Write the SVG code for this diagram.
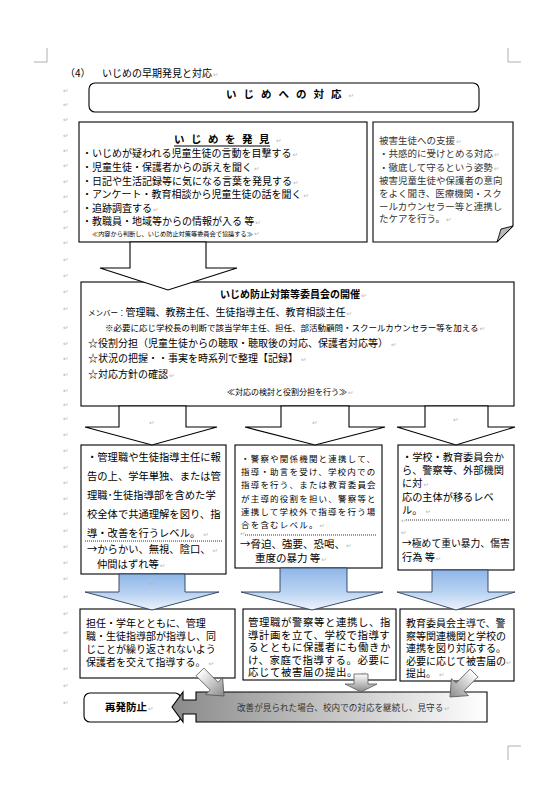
<svg xmlns="http://www.w3.org/2000/svg" width="555" height="789" viewBox="0 0 555 789">
<defs>
<style>
.t{font-family:"Noto Sans CJK JP","Noto Sans CJK SC",sans-serif;font-size:10px;fill:#000}
.b{font-weight:700}
.s{fill:#333}
.r{font-family:"DejaVu Sans",sans-serif;font-size:6.5px;fill:#b4b4b4;font-weight:400;letter-spacing:0}
.box{fill:#fff;stroke:#000;stroke-width:1.1}
.arr{fill:#fff;stroke:#000;stroke-width:1.1}
.blu{fill:url(#gb);stroke:#2a3a55;stroke-width:0.9}
.gry{stroke:#555;stroke-width:0.8}
.dot{stroke:#000;stroke-width:0.8;stroke-dasharray:1 1}
.crop{fill:none;stroke:#999;stroke-width:0.8}
</style>
<linearGradient id="gb" x1="0" y1="0" x2="0" y2="1">
<stop offset="0" stop-color="#8fb6e8"/><stop offset="0.55" stop-color="#b8d2f2"/><stop offset="1" stop-color="#eef4fc"/>
</linearGradient>
<linearGradient id="gd" x1="0" y1="0" x2="1" y2="0">
<stop offset="0" stop-color="#ffffff"/><stop offset="1" stop-color="#8a8a8a"/>
</linearGradient>
<linearGradient id="gv" x1="0" y1="0" x2="0" y2="1">
<stop offset="0" stop-color="#ffffff"/><stop offset="1" stop-color="#8a8a8a"/>
</linearGradient>
<linearGradient id="gbar" x1="0" y1="0" x2="1" y2="0">
<stop offset="0" stop-color="#8a8a8a"/><stop offset="1" stop-color="#ffffff"/>
</linearGradient>
<path id="darr" d="M-34,-5.5 L-14,-5.5 L-14,-12 L0,0 L-14,12 L-14,5.5 L-34,5.5 Z"/>
</defs>
<rect width="555" height="789" fill="#fff"/>

<g id="cropmarks">
<path class="crop" d="M34,62 H47 V48"/>
<path class="crop" d="M508,48 V62 H521"/>
<path class="crop" d="M521,746 H508 V760"/>
</g>

<g id="margin-marks" class="r">
<text x="63" y="92.5">↵</text><text x="63" y="106.5">↵</text><text x="63" y="121.5">↵</text><text x="63" y="137.5">↵</text>
<text x="63" y="152.5">↵</text><text x="63" y="167.5">↵</text><text x="63" y="183.5">↵</text><text x="63" y="198.5">↵</text>
<text x="63" y="213.5">↵</text><text x="63" y="229.5">↵</text><text x="63" y="244.5">↵</text><text x="63" y="261.5">↵</text>
<text x="63" y="277.5">↵</text><text x="63" y="293.5">↵</text><text x="63" y="310.5">↵</text><text x="63" y="329.5">↵</text>
<text x="63" y="345.5">↵</text><text x="63" y="360.5">↵</text><text x="63" y="376.5">↵</text><text x="63" y="392.5">↵</text>
<text x="63" y="406.5">↵</text><text x="63" y="420.5">↵</text><text x="63" y="436.5">↵</text><text x="63" y="452.5">↵</text>
<text x="63" y="469.5">↵</text><text x="63" y="484.5">↵</text><text x="63" y="500.5">↵</text><text x="63" y="515.5">↵</text>
<text x="63" y="532.5">↵</text><text x="63" y="548.5">↵</text><text x="63" y="564.5">↵</text><text x="63" y="580.5">↵</text>
<text x="63" y="598.5">↵</text><text x="63" y="615.5">↵</text><text x="63" y="634.5">↵</text><text x="63" y="652.5">↵</text>
<text x="63" y="670.5">↵</text><text x="63" y="687.5">↵</text><text x="63" y="704.5">↵</text>
</g>

<g id="heading">
<text class="t" x="65" y="77">（4）</text>
<text class="t" x="102" y="77">いじめの早期発見と対応<tspan class="r" dx="1">↵</tspan></text>
</g>

<g id="node-title">
<rect class="box" x="89" y="83" width="390" height="29" rx="6"/>
<text class="t b" x="226" y="98" style="font-size:10.5px;letter-spacing:7px">いじめへの対応<tspan class="r">↵</tspan></text>
</g>

<g id="node-discover">
<rect class="box" x="79" y="122" width="288" height="120"/>
<text class="t b" x="174" y="143" style="font-size:10.5px;letter-spacing:6.5px">いじめを発見<tspan class="r">↵</tspan></text>
<line x1="174" y1="146" x2="270" y2="146" stroke="#000" stroke-width="1"/>
<text class="t" x="82" y="157">・いじめが疑われる児童生徒の言動を目撃する<tspan class="r" dx="1">↵</tspan></text>
<text class="t" x="82" y="171">・児童生徒・保護者からの訴えを聞く<tspan class="r" dx="2">↵</tspan></text>
<text class="t" x="82" y="185">・日記や生活記録等に気になる言葉を発見する<tspan class="r" dx="1">↵</tspan></text>
<text class="t" x="82" y="198">・アンケート・教育相談から児童生徒の話を聞く<tspan class="r" dx="2">↵</tspan></text>
<text class="t" x="82" y="212">・追跡調査する<tspan class="r" dx="1">↵</tspan></text>
<text class="t" x="82" y="225">・教職員・地域等からの情報が入る 等<tspan class="r" dx="1">↵</tspan></text>
<text class="t" x="92" y="236" style="font-size:6.2px">≪内容から判断し、いじめ防止対策等委員会で協議する≫<tspan class="r" dx="1">↵</tspan></text>
</g>

<g id="node-support">
<path class="box" d="M373,122 H513 V226 L497,242 H373 Z"/>
<path d="M497,242 C499,236 500,232 501,229 C505,228 509,227 513,226 Z" fill="#b8b8b8" stroke="#000" stroke-width="0.9"/>
<g class="t s" style="font-size:9.5px">
<text x="379" y="144">被害生徒への支援<tspan class="r" dx="1">↵</tspan></text>
<text x="379" y="157">・共感的に受けとめる対応<tspan class="r" dx="1">↵</tspan></text>
<text x="379" y="171">・徹底して守るという姿勢<tspan class="r" dx="1">↵</tspan></text>
<text x="379" y="184">被害児童生徒や保護者の意向</text>
<text x="379" y="197">をよく聞き、医療機関・スク</text>
<text x="379" y="210">ールカウンセラー等と連携し</text>
<text x="379" y="222">たケアを行う。<tspan class="r" dx="1">↵</tspan></text>
</g>
</g>

<g id="node-committee">
<rect class="box" x="81" y="282" width="433" height="124"/>
<text class="t b" x="220" y="298">いじめ防止対策等委員会の開催<tspan class="r" dx="1">↵</tspan></text>
<text class="t" x="88" y="316"><tspan style="font-size:7.5px">メンバー：</tspan>管理職、教務主任、生徒指導主任、教育相談主任<tspan class="r" dx="1">↵</tspan></text>
<text class="t" x="105" y="331" style="font-size:8.5px">※必要に応じ学校長の判断で該当学年主任、担任、部活動顧問・スクールカウンセラー等を加える<tspan class="r" dx="1">↵</tspan></text>
<text class="t" x="88" y="347">☆役割分担（児童生徒からの聴取・聴取後の対応、保護者対応等）<tspan class="r" dx="3">↵</tspan></text>
<text class="t" x="88" y="362">☆状況の把握・・事実を時系列で整理【記録】<tspan class="r" dx="3">↵</tspan></text>
<text class="t" x="88" y="378">☆対応方針の確認<tspan class="r" dx="1">↵</tspan></text>
<text class="t" x="227" y="395" style="font-size:8px">≪対応の検討と役割分担を行う≫<tspan class="r" dx="1">↵</tspan></text>
</g>

<g id="node-level1">
<rect class="box" x="81" y="445" width="145" height="129"/>
<g class="t" style="font-size:10.3px">
<text x="87" y="461">・管理職や生徒指導主任に報</text>
<text x="87" y="480">告の上、学年単独、または管</text>
<text x="87" y="499">理職･生徒指導部を含めた学</text>
<text x="87" y="518">校全体で共通理解を図り、指</text>
<text x="87" y="537">導・改善を行うレベル。<tspan class="r" dx="3">↵</tspan></text>
<text x="87" y="553">→からかい、無視、陰口、<tspan class="r" dx="2">↵</tspan></text>
<text x="97" y="568">仲間はずれ等<tspan class="r" dx="1">↵</tspan></text>
</g>
<line class="dot" x1="85" y1="541" x2="222" y2="541"/>
</g>

<g id="node-level2">
<rect class="box" x="235" y="445" width="147" height="123"/>
<g class="t" style="font-size:8.5px;letter-spacing:1.2px">
<text x="241" y="462">・警察や関係機関と連携して、</text>
<text x="241" y="475">指導・助言を受け、学校内での</text>
<text x="241" y="488">指導を行う、または教育委員会</text>
<text x="241" y="502">が主導的役割を担い、警察等と</text>
<text x="241" y="515">連携して学校外で指導を行う場</text>
<text x="241" y="528">合を含むレベル。<tspan class="r" dx="1">↵</tspan></text>
</g>
<text class="r" x="240" y="536">↵</text>
<line class="dot" x1="245" y1="535" x2="377" y2="535"/>
<text class="t" x="240" y="548" style="font-size:10.5px">→脅迫、強要、恐喝、<tspan class="r" dx="1">↵</tspan></text>
<text class="t" x="255" y="562" style="font-size:10.5px">重度の暴力 等<tspan class="r" dx="1">↵</tspan></text>
</g>

<g id="node-level3">
<rect class="box" x="398" y="445" width="116" height="125"/>
<g class="t" style="font-size:10.2px">
<text x="402" y="461">・学校・教育委員会か</text>
<text x="402" y="474">ら、警察等、外部機関</text>
<text x="402" y="487">に対<tspan class="r" dx="1">↵</tspan></text>
<text x="402" y="501">応の主体が移るレベ</text>
<text x="402" y="514">ル。<tspan class="r" dx="3">↵</tspan></text>
<text x="402" y="547" style="font-size:9.8px">→極めて重い暴力、傷害</text>
<text x="402" y="561">行為 等<tspan class="r" dx="1">↵</tspan></text>
</g>
<text class="r" x="401" y="523">↵</text>
<text class="r" x="401" y="535">↵</text>
<line class="dot" x1="406" y1="520" x2="509" y2="520"/>
</g>

<g id="node-action1">
<rect class="box" x="80" y="609" width="155" height="69"/>
<g class="t">
<text x="86" y="627">担任・学年とともに、管理</text>
<text x="86" y="640">職・生徒指導部が指導し、同</text>
<text x="86" y="653">じことが繰り返されないよう</text>
<text x="86" y="666">保護者を交えて指導する。<tspan class="r" dx="3">↵</tspan></text>
</g>
</g>

<g id="node-action2">
<rect class="box" x="243" y="609" width="153" height="71"/>
<g class="t" style="font-size:10.4px;letter-spacing:0.6px">
<text x="248" y="626">管理職が警察等と連携し、指</text>
<text x="248" y="638.5">導計画を立て、学校で指導す</text>
<text x="248" y="651">るとともに保護者にも働きか</text>
<text x="248" y="663.5">け、家庭で指導する。必要に</text>
<text x="248" y="676">応じて被害届の提出。<tspan class="r" dx="3">↵</tspan></text>
</g>
</g>

<g id="node-action3">
<rect class="box" x="400" y="609" width="114" height="72"/>
<g class="t">
<text x="406" y="627">教育委員会主導で、警</text>
<text x="406" y="640">察等関連機関と学校の</text>
<text x="406" y="652">連携を図り対応する。</text>
<text x="406" y="665">必要に応じて被害届の<tspan class="r">↵</tspan></text>
<text x="406" y="677">提出。<tspan class="r" dx="3">↵</tspan></text>
</g>
</g>

<g id="node-prevent">
<rect class="box" x="84" y="693" width="97" height="29" rx="6"/>
<text class="t b" x="105" y="711" style="font-size:10.5px">再発防止<tspan class="r" dx="1">↵</tspan></text>
</g>

<g id="node-monitor">
<path d="M196,692 H487 V722 H196 V714 H183 V722 L172,707 L183,692 V700 H196 Z" fill="url(#gbar)" stroke="#000" stroke-width="1.1"/>
<text class="t" x="237" y="711" style="font-size:8.6px;fill:#333">改善が見られた場合、校内での対応を継続し、見守る<tspan class="r" dx="1">↵</tspan></text>
</g>

<g id="connectors">
<polygon class="arr" points="130,242 130,268 100,268 168,290 237,268 206,268 206,242"/>
<polygon class="arr" points="119,406 119,427 85,427 152,445 217,427 186,427 186,406"/>
<polygon class="arr" points="281,406 281,427 245,427 315,445 385,427 349,427 349,406"/>
<polygon class="arr" points="425,406 425,427 397,427 456,445 515,427 488,427 488,406"/>
<text class="r" x="149" y="425">↵</text>
<text class="r" x="312" y="425">↵</text>
<text class="r" x="453" y="422">↵</text>
<polygon class="blu" points="119,574 119,592 85,592 152,610 219,592 185,592 185,574"/>
<polygon class="blu" points="280,568 280,592 241,592 312,610 383,592 347,592 347,568"/>
<polygon class="blu" points="432,570 432,592 397,592 456,610 515,592 488,592 488,570"/>
<text class="r" x="149" y="586">↵</text>
<use href="#darr" transform="translate(224,696) rotate(45)" fill="url(#gd)" class="gry"/>
<polygon points="354,674 354,684 345,684 361,692 377,684 368,684 368,674" fill="url(#gv)" class="gry"/>
<use href="#darr" transform="translate(450,697) rotate(135)" fill="url(#gd)" class="gry"/>
</g>
</svg>
